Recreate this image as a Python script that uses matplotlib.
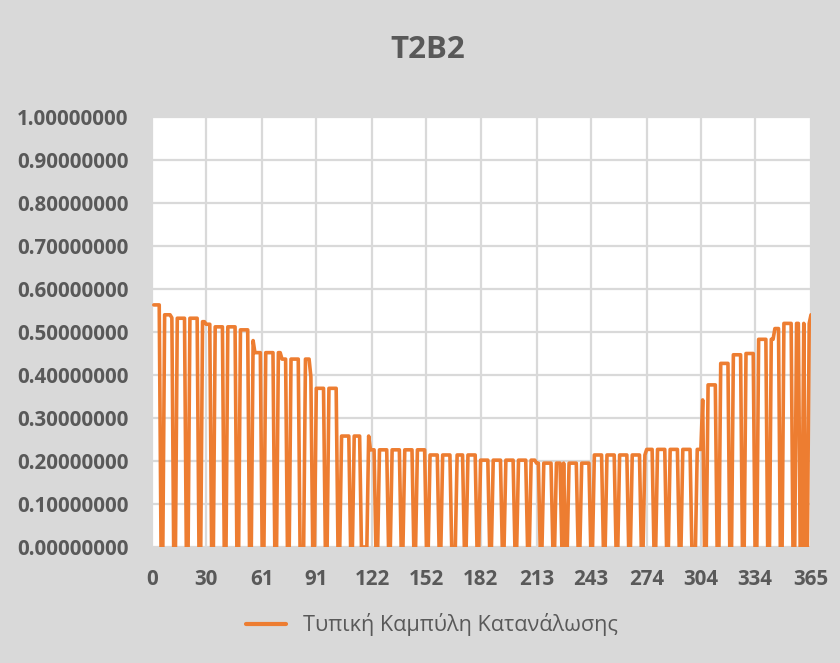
import numpy as np
import matplotlib
matplotlib.use("Agg")
import matplotlib.pyplot as plt
from matplotlib.ticker import FixedLocator, FuncFormatter

# ---- data ----
title = "T2B2"
series_name = "Τυπική Καμπύλη Κατανάλωσης"
x_ticks = [0, 30, 61, 91, 122, 152, 182, 213, 243, 274, 304, 334, 365]
y_ticks = [0.0, 0.1, 0.2, 0.3, 0.4, 0.5, 0.6, 0.7, 0.8, 0.9, 1.0]

n_days = 365
# working-day level: value holds from the given day until the next start day
level_start_day = [1, 7, 11, 14, 28, 30, 35, 48, 56, 57, 72, 88, 91, 105,
                   121, 152, 182, 213, 244, 274, 305, 308, 315, 322, 329,
                   334, 345, 350, 365]
level_value = [0.563, 0.540, 0.533, 0.532, 0.524, 0.518, 0.512, 0.505, 0.480,
               0.452, 0.437, 0.396, 0.369, 0.258, 0.226, 0.214, 0.202, 0.195,
               0.214, 0.227, 0.342, 0.377, 0.427, 0.447, 0.450, 0.483, 0.508,
               0.520, 0.540]
# days with zero consumption (weekends and holidays)
zero_days = [5, 6, 12, 13, 19, 20, 26, 27, 33, 34, 40, 41, 47, 48, 54, 55,
             61, 62, 68, 69, 75, 76, 82, 83, 84, 89, 90, 96, 97, 103, 104,
             110, 111, 116, 117, 118, 119, 124, 125, 131, 132, 138, 139, 145,
             146, 152, 153, 159, 160, 166, 167, 168, 173, 174, 180, 181, 187,
             188, 194, 195, 201, 202, 208, 209, 215, 216, 222, 223, 227, 229,
             230, 236, 237, 243, 244, 250, 251, 257, 258, 264, 265, 271, 272,
             278, 279, 285, 286, 292, 293, 299, 300, 301, 306, 307, 313, 314,
             320, 321, 327, 328, 334, 335, 341, 342, 348, 349, 355, 356, 359,
             360, 362, 363]

days = np.arange(1, n_days + 1)
idx = np.searchsorted(level_start_day, days, side="right") - 1
values = np.array(level_value)[idx]
values[np.isin(days, zero_days)] = 0.0

# ---- styling ----
bg = "#d9d9d9"
txt = "#595959"
orange = "#ED7D31"
font = "Open Sans"

fig = plt.figure(figsize=(8.4, 6.63), dpi=100, facecolor=bg)
ax = fig.add_axes([152 / 840, 1 - 547 / 663, (811 - 152) / 840, (547 - 117) / 663])
ax.set_facecolor("white")

ax.plot(days, values, color=orange, lw=2.6, solid_joinstyle="round",
        solid_capstyle="round", label=series_name, zorder=3)

ax.set_xlim(0, 365)
ax.set_ylim(0, 1.0)
ax.xaxis.set_major_locator(FixedLocator(x_ticks))
ax.yaxis.set_major_locator(FixedLocator(y_ticks))
ax.yaxis.set_major_formatter(FuncFormatter(lambda v, p: f"{v:.8f}"))
ax.grid(True, color=bg, lw=1.6, zorder=0)
for s in ax.spines.values():
    s.set_visible(False)
ax.tick_params(length=0, colors=txt)
ax.tick_params(axis="y", pad=17)
ax.tick_params(axis="x", pad=16)
for lab in ax.get_xticklabels() + ax.get_yticklabels():
    lab.set_fontfamily(font)
    lab.set_fontweight("bold")
    lab.set_fontsize(14.8)
    lab.set_color(txt)

fig.text(428 / 840, 1 - 50 / 663, title, ha="center", va="center",
         fontsize=22.5, fontweight="bold", color=txt, fontfamily=font)

leg = ax.legend(loc="center", bbox_to_anchor=(432 / 840, 1 - 625 / 663),
                bbox_transform=fig.transFigure, frameon=False,
                handlelength=1.85, handletextpad=0.75,
                prop={"family": font, "size": 15.6})
for t in leg.get_texts():
    t.set_color(txt)
for l in leg.get_lines():
    l.set_linewidth(3)

fig.savefig("out.png", dpi=100, facecolor=bg)
